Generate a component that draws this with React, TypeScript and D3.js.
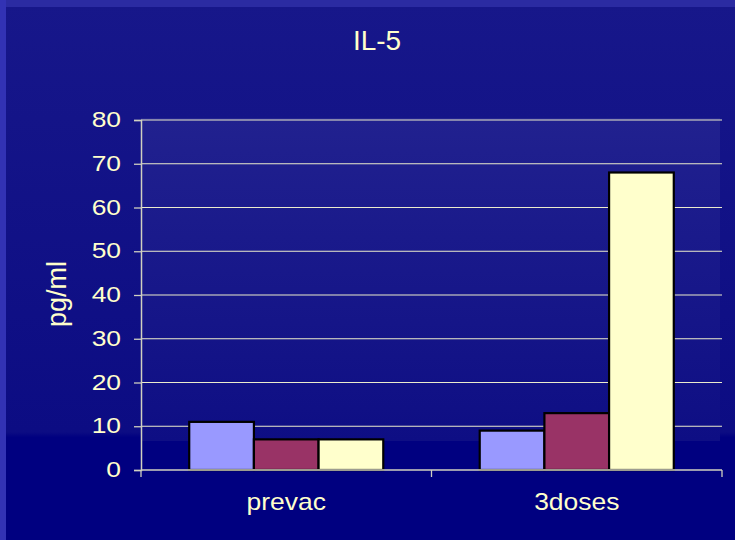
import {useEffect, useRef} from "react";
import * as d3 from "d3";

// chart values
const categories = ["prevac", "3doses"];
const seriesNames = ["s1", "s2", "s3"];
const seriesColors = ["#9999ff", "#993366", "#ffffcc"];
const values = [
    [11, 7, 7],   // prevac
    [9, 13, 68],  // 3doses
];
const yTicks = [0, 10, 20, 30, 40, 50, 60, 70, 80];
const title = "IL-5";
const yTitle = "pg/ml";

const W = 735, H = 540;
const TEXT = "#ffffcc";
const FONT = "'Liberation Sans', Arial, sans-serif";

export default function App() {
    const ref = useRef<SVGSVGElement>(null);

    useEffect(() => {
        const svg = d3.select(ref.current);
        svg.selectAll("*").remove();

        // plot box
        const left = 141, right = 722, top = 120, bottom = 470;

        const defs = svg.append("defs");
        const bg = defs.append("linearGradient").attr("id", "bg").attr("x1", 0).attr("y1", 0).attr("x2", 0).attr("y2", 1);
        bg.append("stop").attr("offset", "0%").attr("stop-color", "#17178a");
        bg.append("stop").attr("offset", "80%").attr("stop-color", "#0c0c83");
        bg.append("stop").attr("offset", "81%").attr("stop-color", "#000080");
        bg.append("stop").attr("offset", "100%").attr("stop-color", "#000080");

        const pa = defs.append("linearGradient").attr("id", "pa").attr("x1", 0).attr("y1", 0).attr("x2", 0).attr("y2", 1);
        pa.append("stop").attr("offset", "0%").attr("stop-color", "#21218f");
        pa.append("stop").attr("offset", "100%").attr("stop-color", "#0e0e84");

        // background and borders
        svg.append("rect").attr("width", W).attr("height", H).attr("fill", "url(#bg)");
        svg.append("rect").attr("width", W).attr("height", 7).attr("fill", "#2b2ba2");
        svg.append("rect").attr("width", 6).attr("height", H).attr("fill", "#3232b4");

        // plot area fill
        svg.append("rect")
            .attr("x", left).attr("y", 118)
            .attr("width", 720 - left).attr("height", 441 - 118)
            .attr("fill", "url(#pa)");

        const y = d3.scaleLinear().domain([0, 80]).range([bottom, top]);
        const x0 = d3.scaleBand().domain(categories).range([left, right]).padding(0);
        const bw = x0.bandwidth();
        const x1 = d3.scaleBand().domain(seriesNames).range([bw * 0.166, bw * 0.834]).padding(0);

        // gridlines
        svg.append("g")
            .selectAll("line")
            .data(yTicks.filter(d => d > 0))
            .enter()
            .append("line")
            .attr("x1", left).attr("x2", right)
            .attr("y1", d => y(d)).attr("y2", d => y(d))
            .attr("stroke", "#ececcc")
            .attr("stroke-width", 1.2);

        // bars
        const groups = svg.append("g")
            .selectAll("g")
            .data(categories)
            .enter()
            .append("g")
            .attr("transform", d => `translate(${x0(d)},0)`);

        groups.selectAll("rect")
            .data((d, i) => values[i].map((v, j) => ({v, s: seriesNames[j], c: seriesColors[j]})))
            .enter()
            .append("rect")
            .attr("x", d => x1(d.s)!)
            .attr("y", d => y(d.v))
            .attr("width", x1.bandwidth())
            .attr("height", d => y(0) - y(d.v))
            .attr("fill", d => d.c)
            .attr("stroke", "#000")
            .attr("stroke-width", 2.2);

        // y axis
        const yAxis = svg.append("g").attr("transform", `translate(${left},0)`)
            .call(d3.axisLeft(y).tickValues(yTicks).tickSize(7).tickFormat(() => ""));
        yAxis.select(".domain").attr("stroke", "#d0d0c0").attr("stroke-width", 1.5);
        yAxis.selectAll(".tick line").attr("stroke", "#d0d0c0").attr("stroke-width", 1.3);

        svg.append("g")
            .selectAll("text")
            .data(yTicks)
            .enter()
            .append("text")
            .attr("transform", d => `translate(121,${y(d) + 7}) scale(1.2,1)`)
            .attr("text-anchor", "end")
            .attr("font-family", FONT)
            .attr("font-size", 22)
            .attr("fill", TEXT)
            .text(d => d);

        // x axis
        const xAxisLine = svg.append("g");
        xAxisLine.append("line")
            .attr("x1", left).attr("x2", right)
            .attr("y1", bottom).attr("y2", bottom)
            .attr("stroke", "#d0d0c0").attr("stroke-width", 1.5);
        xAxisLine.selectAll("line.t")
            .data([...categories.map(c => x0(c)!), right])
            .enter()
            .append("line")
            .attr("class", "t")
            .attr("x1", d => d).attr("x2", d => d)
            .attr("y1", bottom).attr("y2", bottom + 7)
            .attr("stroke", "#d0d0c0").attr("stroke-width", 1.3);

        svg.append("g")
            .selectAll("text")
            .data(categories)
            .enter()
            .append("text")
            .attr("transform", d => `translate(${x0(d)! + bw / 2},510) scale(1.15,1)`)
            .attr("text-anchor", "middle")
            .attr("font-family", FONT)
            .attr("font-size", 23)
            .attr("fill", TEXT)
            .text(d => d);

        // titles
        svg.append("text")
            .attr("x", 377).attr("y", 50)
            .attr("text-anchor", "middle")
            .attr("font-family", FONT)
            .attr("font-size", 28)
            .attr("fill", TEXT)
            .text(title);

        svg.append("text")
            .attr("transform", "translate(66,294) rotate(-90)")
            .attr("text-anchor", "middle")
            .attr("font-family", FONT)
            .attr("font-size", 27)
            .attr("fill", TEXT)
            .text(yTitle);
    }, []);

    return <svg ref={ref} width={W} height={H}
                style={{position: "absolute", left: 0, top: 0, display: "block"}}/>;
}
